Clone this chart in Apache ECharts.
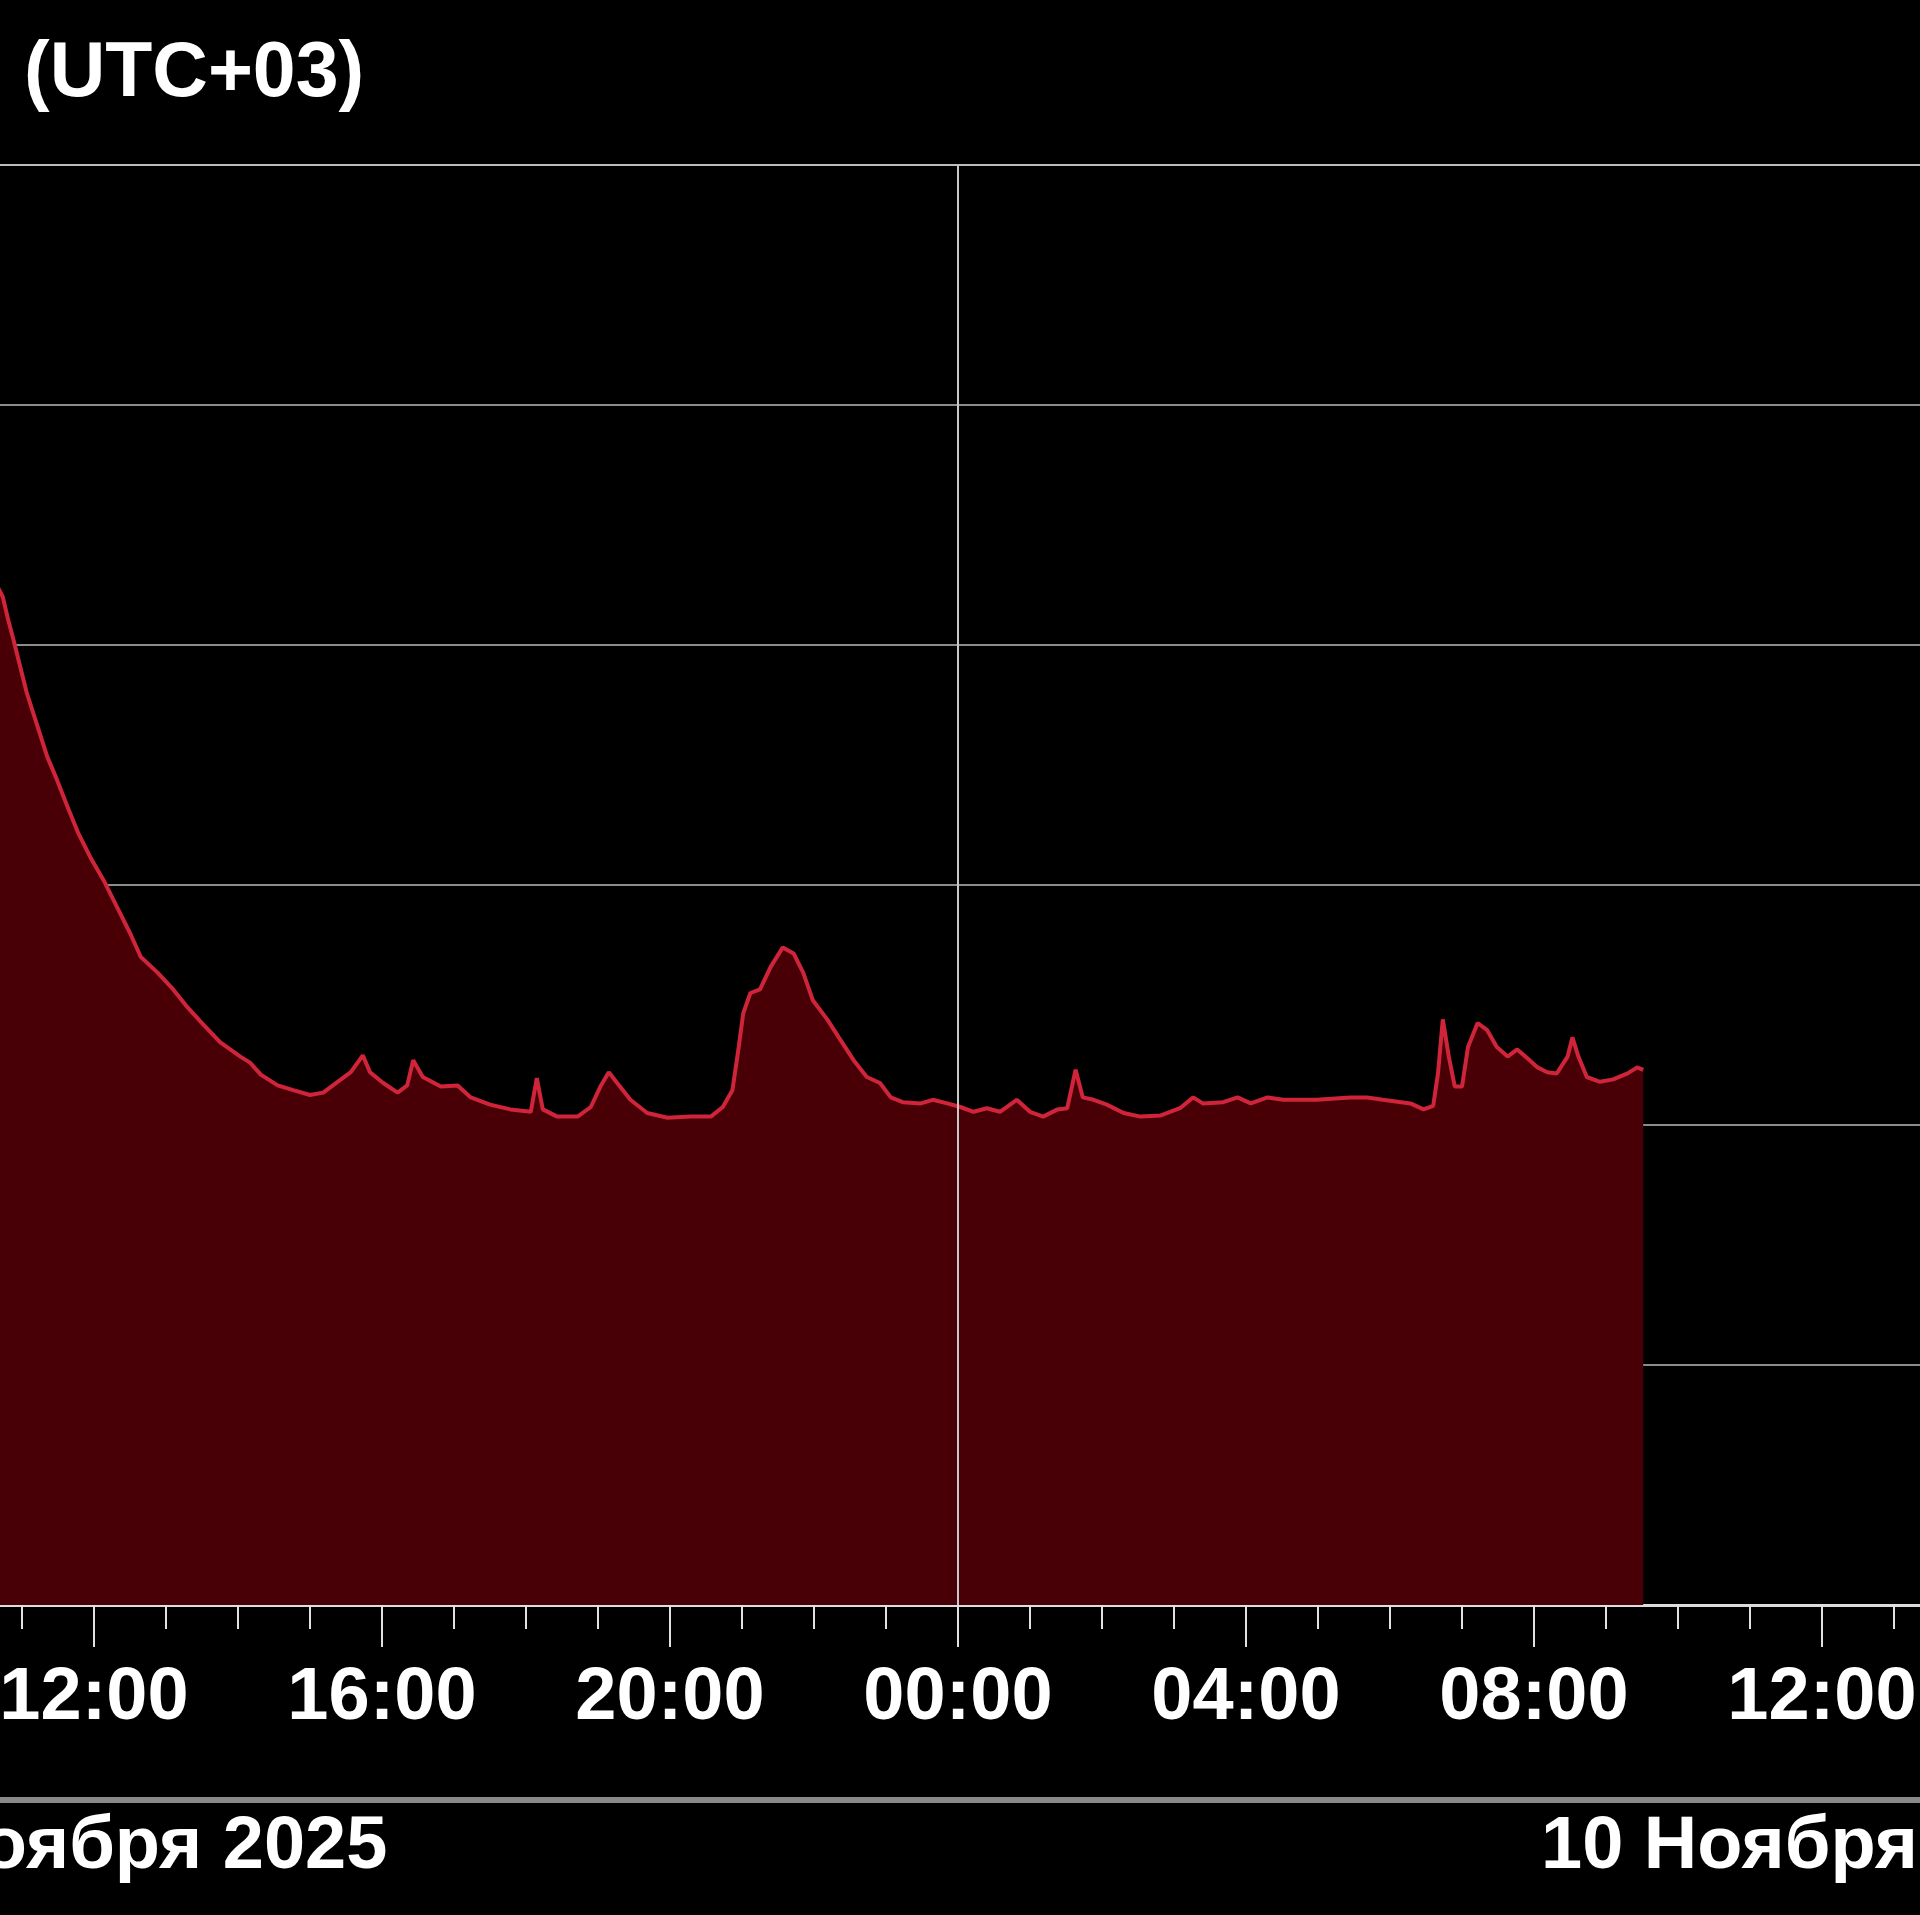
<!DOCTYPE html>
<html>
<head>
<meta charset="utf-8">
<script src="https://cdn.jsdelivr.net/npm/echarts@6/dist/echarts.min.js"></script>
<style>
  html, body { margin: 0; padding: 0; background: #000; }
  #chart { width: 1920px; height: 1915px; }
</style>
</head>
<body>
<div id="chart"></div>
<script>
// local time, UTC+03
const times = [
  '2025-11-09 10:40', '2025-11-09 10:44', '2025-11-09 10:48', '2025-11-09 10:53', '2025-11-09 10:57',
  '2025-11-09 11:04', '2025-11-09 11:13', '2025-11-09 11:21', '2025-11-09 11:29', '2025-11-09 11:38',
  '2025-11-09 11:47', '2025-11-09 11:57', '2025-11-09 12:08', '2025-11-09 12:19', '2025-11-09 12:30',
  '2025-11-09 12:39', '2025-11-09 12:53', '2025-11-09 13:06', '2025-11-09 13:18', '2025-11-09 13:29',
  '2025-11-09 13:45', '2025-11-09 14:02', '2025-11-09 14:10', '2025-11-09 14:19', '2025-11-09 14:33',
  '2025-11-09 14:46', '2025-11-09 15:00', '2025-11-09 15:11', '2025-11-09 15:23', '2025-11-09 15:34',
  '2025-11-09 15:44', '2025-11-09 15:50', '2025-11-09 16:01', '2025-11-09 16:13', '2025-11-09 16:21',
  '2025-11-09 16:26', '2025-11-09 16:34', '2025-11-09 16:49', '2025-11-09 17:03', '2025-11-09 17:14',
  '2025-11-09 17:30', '2025-11-09 17:47', '2025-11-09 18:04', '2025-11-09 18:09', '2025-11-09 18:14',
  '2025-11-09 18:26', '2025-11-09 18:43', '2025-11-09 18:54', '2025-11-09 19:02', '2025-11-09 19:09',
  '2025-11-09 19:16', '2025-11-09 19:27', '2025-11-09 19:41', '2025-11-09 19:58', '2025-11-09 20:17',
  '2025-11-09 20:34', '2025-11-09 20:44', '2025-11-09 20:52', '2025-11-09 20:57', '2025-11-09 21:01',
  '2025-11-09 21:07', '2025-11-09 21:15', '2025-11-09 21:24', '2025-11-09 21:34', '2025-11-09 21:43',
  '2025-11-09 21:51', '2025-11-09 21:59', '2025-11-09 22:11', '2025-11-09 22:22', '2025-11-09 22:33',
  '2025-11-09 22:44', '2025-11-09 22:55', '2025-11-09 23:04', '2025-11-09 23:14', '2025-11-09 23:29',
  '2025-11-09 23:39', '2025-11-09 23:51',
  '2025-11-10 00:02', '2025-11-10 00:13', '2025-11-10 00:24', '2025-11-10 00:35', '2025-11-10 00:49',
  '2025-11-10 01:00', '2025-11-10 01:11', '2025-11-10 01:23', '2025-11-10 01:31', '2025-11-10 01:38',
  '2025-11-10 01:44', '2025-11-10 01:53', '2025-11-10 02:04', '2025-11-10 02:18', '2025-11-10 02:32',
  '2025-11-10 02:49', '2025-11-10 03:05', '2025-11-10 03:16', '2025-11-10 03:24', '2025-11-10 03:41',
  '2025-11-10 03:53', '2025-11-10 04:04', '2025-11-10 04:18', '2025-11-10 04:31', '2025-11-10 04:59',
  '2025-11-10 05:27', '2025-11-10 05:41', '2025-11-10 05:54', '2025-11-10 06:17', '2025-11-10 06:28',
  '2025-11-10 06:36', '2025-11-10 06:40', '2025-11-10 06:44', '2025-11-10 06:49', '2025-11-10 06:54',
  '2025-11-10 07:00', '2025-11-10 07:05', '2025-11-10 07:13', '2025-11-10 07:21', '2025-11-10 07:29',
  '2025-11-10 07:38', '2025-11-10 07:46', '2025-11-10 07:54', '2025-11-10 08:03', '2025-11-10 08:11',
  '2025-11-10 08:19', '2025-11-10 08:28', '2025-11-10 08:32', '2025-11-10 08:37', '2025-11-10 08:44',
  '2025-11-10 08:55', '2025-11-10 09:06', '2025-11-10 09:18', '2025-11-10 09:26', '2025-11-10 09:31'
]
const speeds = [
  848, 840, 823, 804, 788,
  760, 732, 707, 688, 665,
  643, 623, 604, 582, 560,
  540, 527, 513, 498, 486,
  469, 457, 452, 442, 433,
  429, 425, 427, 436, 444,
  458, 444, 435, 427, 433,
  454, 440, 432, 433, 423,
  417, 413, 411, 439, 413,
  407, 407, 415, 432, 444,
  435, 421, 410, 406, 407,
  407, 415, 429, 463, 493,
  510, 513, 532, 548, 543,
  527, 504, 488, 471, 454,
  440, 435, 423, 419, 418,
  421, 418,
  415, 411, 414, 411, 421,
  411, 407, 413, 414, 446,
  423, 421, 417, 410, 407,
  408, 414, 423, 418, 419,
  423, 418, 423, 421, 421,
  423, 423, 421, 418, 413,
  416, 443, 488, 457, 432,
  432, 465, 485, 479, 465,
  457, 463, 456, 448, 444,
  443, 457, 473, 457, 440,
  436, 438, 443, 448, 446
]
const days = ['9 Ноября 2025', '10 Ноября 2025']

const font = 'Liberation Sans'

// hours since 9 Nov 00:00
function toHours (s) {
  const [d, hm] = s.split(' ')
  const [h, m] = hm.split(':').map(Number)
  return (Number(d.slice(8)) - 9) * 24 + h + m / 60
}
const data = times.map((t, i) => [toHours(t), speeds[i]])

const chart = echarts.init(document.getElementById('chart'))
const option = {
  backgroundColor: '#000',
  animation: false,
  title: {
    text: '(UTC+03)',
    left: 24,
    top: 36,
    padding: 0,
    textStyle: { color: '#fff', fontSize: 77, fontWeight: 'bold', fontFamily: font }
  },
  grid: [
    // the chart is wider than the page, both ends are cut off
    { left: -194, right: -190, top: 165, bottom: 310, outerBoundsMode: 'none', containLabel: false },
    { left: -770, right: -766, top: 1760, bottom: 115, outerBoundsMode: 'none', containLabel: false }
  ],
  xAxis: [
    {
      type: 'value',
      gridIndex: 0,
      min: 8,
      max: 40,
      interval: 4,
      axisLine: { lineStyle: { color: '#dcdcdc', width: 3 } },
      axisTick: { length: 42, lineStyle: { color: '#e0e0e0', width: 2 } },
      minorTick: { show: true, splitNumber: 4, length: 24, lineStyle: { color: '#e0e0e0', width: 2 } },
      splitLine: { show: false },
      axisLabel: {
        margin: 57,
        color: '#fff',
        fontSize: 74,
        fontWeight: 'bold',
        fontFamily: font,
        formatter: v => String(v % 24).padStart(2, '0') + ':00'
      }
    },
    {
      type: 'category',
      gridIndex: 1,
      // first day label sits a little right of noon
      data: [
        { value: days[0], textStyle: { padding: [0, 0, 0, 66] } },
        days[1]
      ],
      boundaryGap: true,
      axisLine: { lineStyle: { color: '#8a8a8a', width: 6 } },
      axisTick: { inside: true, length: 37, lineStyle: { color: '#d0d0d0', width: 2 } },
      axisLabel: {
        margin: 11,
        color: '#fff',
        fontSize: 74,
        fontWeight: 'bold',
        fontFamily: font
      }
    }
  ],
  yAxis: [
    {
      type: 'value',
      gridIndex: 0,
      min: 0,
      max: 1200,
      interval: 200,
      axisLine: { show: false },
      axisTick: { show: false },
      axisLabel: { show: false },
      splitLine: {
        lineStyle: {
          color: ['#8c8c8c', '#8c8c8c', '#8c8c8c', '#8c8c8c', '#8c8c8c', '#8c8c8c', '#bdbdbd'],
          width: 2
        }
      }
    },
    { type: 'value', gridIndex: 1, show: false }
  ],
  series: [
    {
      type: 'line',
      xAxisIndex: 0,
      yAxisIndex: 0,
      data,
      showSymbol: false,
      lineStyle: { color: '#d0243a', width: 4 },
      areaStyle: { color: '#480006', opacity: 1 },
      markLine: {
        silent: true,
        symbol: 'none',
        label: { show: false },
        lineStyle: { color: '#c8c8c8', width: 2, type: 'solid' },
        data: [{ xAxis: 24 }]
      }
    }
  ]
}

option && chart.setOption(option)
</script>
</body>
</html>
